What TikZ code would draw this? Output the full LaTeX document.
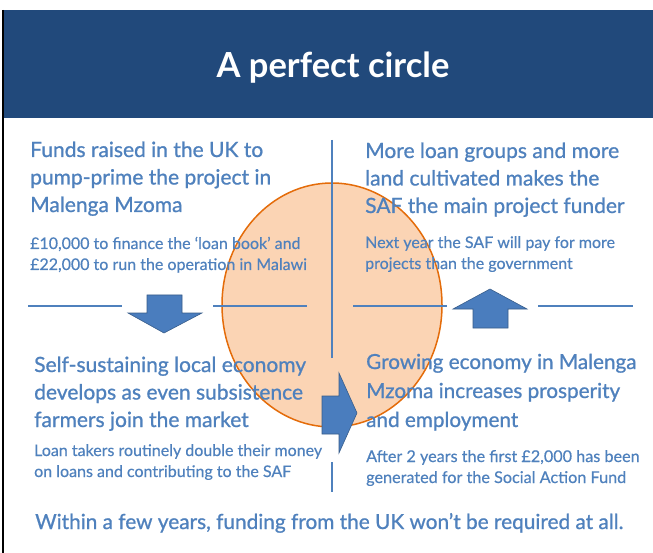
\documentclass[tikz,border=0pt]{standalone}
\usepackage{fontspec}
\setmainfont{Lato}
\newfontfamily\headfont{Lato}[FakeBold=0.9]
\newfontfamily\subfont{Lato}[FakeBold=0.4]
\definecolor{hdr}{RGB}{33,73,123}
\definecolor{txt}{RGB}{79,129,189}
\definecolor{arr}{RGB}{74,125,190}
\definecolor{arrline}{RGB}{56,93,138}
\definecolor{circfill}{RGB}{251,212,180}
\definecolor{circline}{RGB}{228,108,10}
\tikzset{
  head/.style={anchor=base west, inner sep=0pt, text=txt, align=left, font=\headfont\fontsize{21}{27.5}\selectfont},
  sub/.style={anchor=base west, inner sep=0pt, text=txt, align=left, font=\subfont\fontsize{16}{21}\selectfont},
  rule/.style={draw=txt, line width=1.8pt},
  arrowshape/.style={fill=arr, draw=arrline, line width=0.6pt, line join=miter}
}
\begin{document}
\begin{tikzpicture}[x=1pt,y=-1pt]
\useasboundingbox (0,0) rectangle (653,553);
\fill[white] (0,0) rectangle (653,553);
% header
\fill[hdr] (3,10) rectangle (653,118);
\draw[black, line width=1.5pt] (3,10) -- (3,553);
\node[text=white, font=\bfseries\fontsize{34.5}{38}\selectfont, anchor=base, inner sep=0pt] (title) at (333,78) {A perfect circle};
% circle
\draw[fill=circfill, draw=circline, line width=1.5pt] (332,305) ellipse [x radius=110, y radius=122];
% rules
\coordinate (vt) at (332,140);
\coordinate (vm1) at (332,358);
\coordinate (vm2) at (332,462);
\coordinate (vb) at (332,492);
\draw[rule] (vt) -- (vm1);
\draw[rule] (vm2) -- (vb);
\coordinate (l1a) at (28,306); \coordinate (l1b) at (122,306);
\coordinate (l2a) at (213,306); \coordinate (l2b) at (307,306);
\coordinate (r1a) at (353,306); \coordinate (r1b) at (447,306);
\coordinate (r2a) at (538,306); \coordinate (r2b) at (633,306);
\draw[rule] (l1a) -- (l1b);
\draw[rule] (l2a) -- (l2b);
\draw[rule] (r1a) -- (r1b);
\draw[rule] (r2a) -- (r2b);
% arrows
\draw[arrowshape] (147,295) -- (182,295) -- (182,313) -- (202,313) -- (164,333) -- (128,313) -- (147,313) -- cycle;
\draw[arrowshape] (473,328) -- (508,328) -- (508,309) -- (527,309) -- (490,289) -- (453,309) -- (473,309) -- cycle;
\draw[arrowshape] (322,396) -- (339,396) -- (339,373) -- (357,413) -- (339,453) -- (339,434) -- (322,434) -- cycle;
% texts (anchor = baseline of last line)
\node[head] (h1) at (30,212) {Funds raised in the UK to\\pump-prime the project in\\Malenga Mzoma};
\node[sub] (s1) at (30,270) {£10,000 to finance the ‘loan book’ and\\£22,000 to run the operation in Malawi};
\node[head] (h2) at (365,213) {More loan groups and more\\land cultivated makes the\\SAF the main project funder};
\node[sub] (s2) at (365,269) {Next year the SAF will pay for more\\projects than the government};
\node[head] (h3) at (34,427) {Self-sustaining local economy\\develops as even subsistence\\farmers join the market};
\node[sub] (s3) at (34,477) {Loan takers routinely double their money\\on loans and contributing to the SAF};
\node[head, font=\headfont\fontsize{20.7}{29}\selectfont] (h4) at (366,427) {Growing economy in Malenga\\Mzoma increases prosperity\\and employment};
\node[sub, font=\subfont\fontsize{16.2}{21}\selectfont] (s4) at (366,483) {After 2 years the first £2,000 has been\\generated for the Social Action Fund};
\node[anchor=base west, inner sep=0pt, text=txt, font=\headfont\fontsize{20.8}{24}\selectfont] (foot) at (35,529) {Within a few years, funding from the UK won’t be required at all.};
\end{tikzpicture}
\end{document}
